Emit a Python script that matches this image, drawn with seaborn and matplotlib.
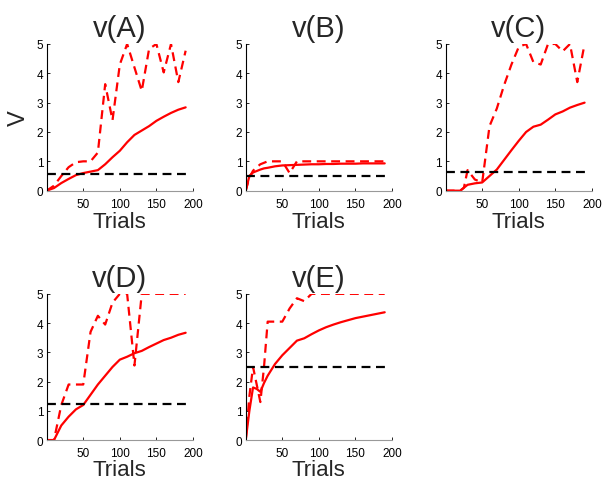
"""
Value estimates v(A)..v(E) over trials: mean (solid), max (dashed) and threshold.
"""

import matplotlib
matplotlib.use("Agg")
import matplotlib.pyplot as plt
import seaborn as sns

# trial sample points
trials = [0, 10, 20, 30, 40, 50, 60, 70, 80, 90,
          100, 110, 120, 130, 140, 150, 160, 170, 180, 190]
trials_early = [0, 5, 10, 15, 20, 25, 30, 40, 50, 60, 70, 80, 90,
                100, 110, 120, 130, 140, 150, 160, 170, 180, 190]

# v(A)
mean_a = [0, 0.09, 0.26, 0.40, 0.53, 0.60, 0.65, 0.70, 0.90, 1.14,
          1.36, 1.65, 1.90, 2.05, 2.20, 2.38, 2.52, 2.65, 2.76, 2.84]
max_a = [0, 0.17, 0.50, 0.80, 0.97, 1.00, 1.00, 1.30, 3.63, 2.40,
         4.30, 5.00, 4.20, 3.40, 4.83, 5.00, 4.03, 5.00, 3.70, 4.77]
thr_a = 0.57

# v(B)
mean_b = [0, 0.50, 0.62, 0.67, 0.72, 0.76, 0.78, 0.83, 0.86, 0.87, 0.88, 0.89, 0.90,
          0.90, 0.91, 0.91, 0.92, 0.92, 0.92, 0.93, 0.93, 0.93, 0.93]
max_b = [0, 0.45, 0.68, 0.80, 0.90, 0.95, 1.00, 1.00, 1.00, 0.60, 1.00, 1.00, 1.00,
         1.00, 1.00, 1.00, 1.00, 1.00, 1.00, 1.00, 1.00, 1.00, 1.00]
thr_b = 0.51

# v(C)
mean_c = [0, 0, 0, 0, 0, 0.10, 0.20, 0.25, 0.28, 0.50, 0.72, 1.05, 1.38,
          1.70, 2.00, 2.18, 2.25, 2.42, 2.60, 2.70, 2.83, 2.92, 3.00]
max_c = [0, 0, 0, 0, 0, 0.10, 0.70, 0.38, 0.28, 2.20, 2.80, 3.60, 4.30,
         4.90, 5.00, 4.38, 4.30, 5.00, 5.00, 4.75, 5.00, 3.70, 5.00]
thr_c = 0.63

# v(D)
mean_d = [0, 0, 0.50, 0.80, 1.05, 1.20, 1.55, 1.90, 2.20, 2.50,
          2.75, 2.85, 2.97, 3.05, 3.18, 3.30, 3.42, 3.50, 3.60, 3.67]
max_d = [0, 0, 1.20, 1.90, 1.90, 1.90, 3.70, 4.25, 3.95, 4.70,
         5.00, 5.00, 2.55, 5.00, 5.00, 5.00, 5.00, 5.00, 5.00, 5.00]
thr_d = 1.25

# v(E)
mean_e = [0, 1.00, 1.80, 1.75, 1.65, 1.95, 2.20, 2.60, 2.90, 3.15, 3.40, 3.48, 3.62,
          3.75, 3.86, 3.95, 4.03, 4.10, 4.17, 4.22, 4.27, 4.32, 4.37]
max_e = [0, 1.50, 2.50, 1.90, 1.30, 2.50, 4.05, 4.05, 4.05, 4.50, 4.85, 4.75, 5.00,
         5.00, 5.00, 5.00, 5.00, 5.00, 5.00, 5.00, 5.00, 5.00, 5.00]
thr_e = 2.50

titles = ["v(A)", "v(B)", "v(C)", "v(D)", "v(E)"]
panels = [
    (trials, mean_a, max_a, thr_a),
    (trials_early, mean_b, max_b, thr_b),
    (trials_early, mean_c, max_c, thr_c),
    (trials, mean_d, max_d, thr_d),
    (trials_early, mean_e, max_e, thr_e),
]

# axes boxes in figure fractions (left, bottom, width, height)
positions = [
    (0.0774, 0.6015, 0.2426, 0.305),
    (0.4075, 0.6015, 0.2426, 0.305),
    (0.7390, 0.6015, 0.2426, 0.305),
    (0.0774, 0.0830, 0.2426, 0.304),
    (0.4075, 0.0830, 0.2426, 0.304),
]

sns.set_style("ticks")
plt.rcParams["font.family"] = ["Liberation Sans", "DejaVu Sans"]

fig = plt.figure(figsize=(6.03, 4.81), dpi=100)

for i, (title, (t, mean_v, max_v, thr)) in enumerate(zip(titles, panels)):
    ax = fig.add_axes(positions[i])
    sns.lineplot(x=t, y=max_v, ax=ax, color="red", linewidth=1.6,
                 linestyle=(0, (4.0, 2.5)))
    sns.lineplot(x=t, y=mean_v, ax=ax, color="red", linewidth=1.6)
    sns.lineplot(x=[t[0], t[-1]], y=[thr, thr], ax=ax, color="black",
                 linewidth=1.6, linestyle=(0, (4.0, 2.5)))
    ax.set_xlim(0, 200)
    ax.set_ylim(0, 5)
    ax.set_xticks([50, 100, 150, 200])
    ax.set_yticks([0, 1, 2, 3, 4, 5])
    ax.tick_params(direction="in", length=2.5, width=0.6, labelsize=8.5,
                   colors="black")
    ax.tick_params(axis="x", pad=5)
    ax.tick_params(axis="y", pad=2.5)
    ax.set_title(title, fontsize=21, pad=6)
    ax.set_xlabel("Trials", fontsize=16, labelpad=1 if i < 3 else 0)
    if i == 0:
        ax.set_ylabel("V", fontsize=17, labelpad=5)
    else:
        ax.set_ylabel("")
    ax.spines["left"].set_linewidth(0.8)
    ax.spines["left"].set_color("black")
    ax.spines["bottom"].set_linewidth(0.8)
    ax.spines["bottom"].set_color("#999999")
    sns.despine(ax=ax)

fig.savefig("out.png", dpi=100)
